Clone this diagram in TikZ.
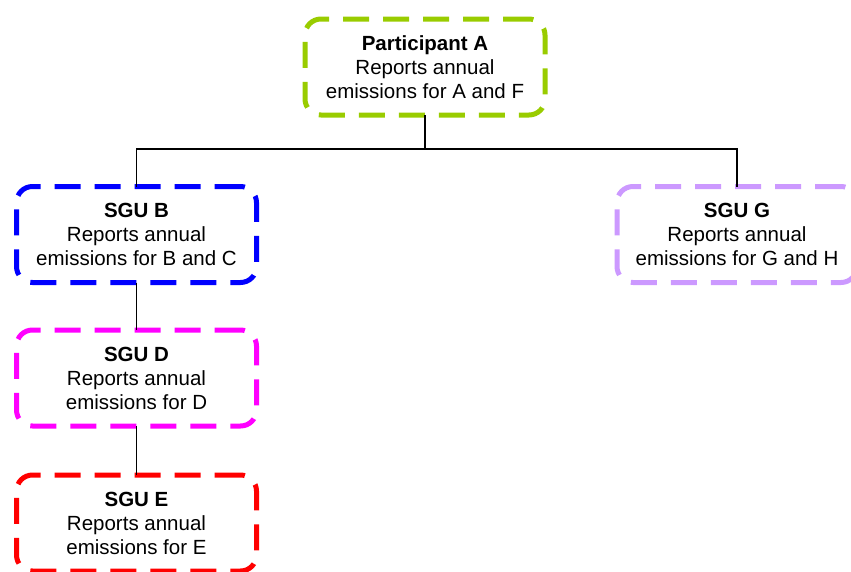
\documentclass[tikz,border=0pt]{standalone}
\usepackage{fontspec}
\setmainfont{Liberation Sans}
\begin{document}
\begin{tikzpicture}[x=1pt,y=-1pt,
  unitbox/.style={draw, line width=5pt, dash pattern=on 26pt off 14pt,
    rounded corners=16pt, minimum width=240pt, minimum height=96pt,
    inner sep=0pt, outer sep=0pt, align=center,
    font=\fontsize{20.5}{24}\selectfont},
  conn/.style={draw=black, line width=1.5pt}]
  \useasboundingbox (0,0) rectangle (851,571);
  \clip (0,0) rectangle (851,571);
  \definecolor{cA}{HTML}{99CC00}
  \definecolor{cB}{HTML}{0000FF}
  \definecolor{cG}{HTML}{CC99FF}
  \definecolor{cD}{HTML}{FF00FF}
  \definecolor{cE}{HTML}{FF0000}

  % reporting units
  \node[unitbox, draw=cA] (A) at (425,67) {\textbf{Participant A}\\Reports annual\\emissions for A and F};
  \node[unitbox, draw=cB] (B) at (136.5,234.5) {\textbf{SGU B}\\Reports annual\\emissions for B and C};
  \node[unitbox, draw=cG] (G) at (737,234.5) {\textbf{SGU G}\\Reports annual\\emissions for G and H};
  \node[unitbox, draw=cD] (D) at (136.5,378) {\textbf{SGU D}\\Reports annual\\emissions for D};
  \node[unitbox, draw=cE] (E) at (136.5,523) {\textbf{SGU E}\\Reports annual\\emissions for E};

  % reporting hierarchy
  \draw[conn] (A.south) -- ++(0,34) coordinate (j);
  \draw[conn] (B.north) |- (j) -| (G.north);
  \draw[conn] (B.south) -- (D.north);
  \draw[conn] (D.south) -- (E.north);
\end{tikzpicture}
\end{document}
